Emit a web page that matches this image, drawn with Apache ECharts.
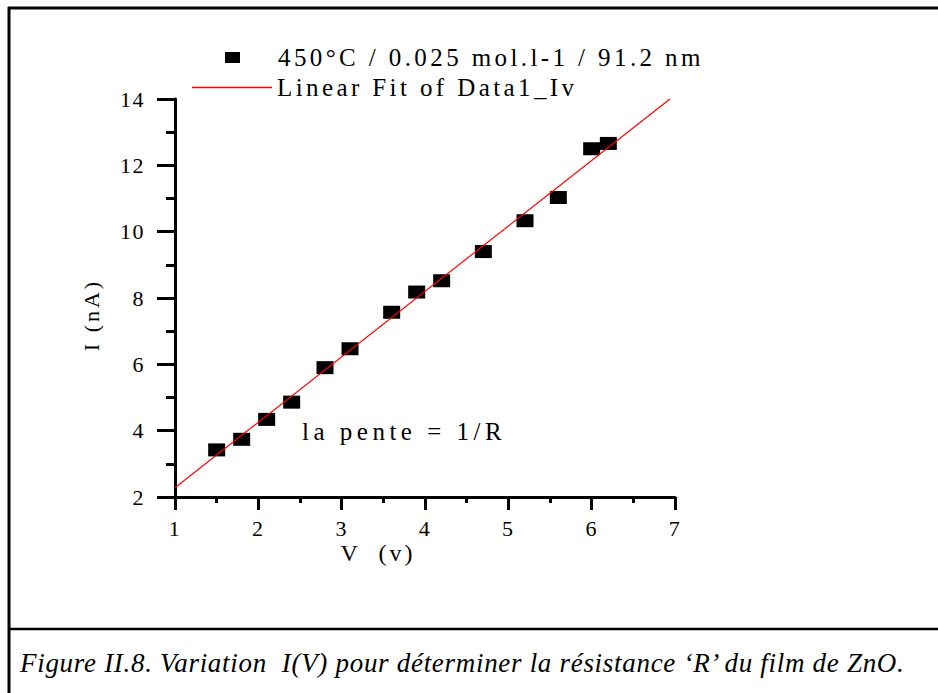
<!DOCTYPE html>
<html>
<head>
<meta charset="utf-8">
<script src="https://cdn.jsdelivr.net/npm/echarts@6/dist/echarts.min.js"></script>
<style>
  html, body { margin: 0; padding: 0; background: #fff; }
  #chart { width: 938px; height: 693px; }
</style>
</head>
<body>
<div id="chart"></div>
<script>
// ---- data ----
const voltage = [1.5, 1.8, 2.1, 2.4, 2.8, 3.1, 3.6, 3.9, 4.2, 4.7, 5.2, 5.6, 6.0, 6.2];
const current = [3.42, 3.74, 4.34, 4.86, 5.90, 6.47, 7.57, 8.18, 8.52, 9.40, 10.33, 11.03, 12.50, 12.66];
const fitX = [1, 6.94];
const fitY = [2.28, 14];
const seriesName = '450°C / 0.025 mol.l-1 / 91.2 nm';
const fitName = 'Linear Fit of Data1_Iv';
const xTitle = 'V  (v)';
const yTitle = 'I (nA)';
const note = 'la pente = 1/R';
const caption = 'Figure II.8. Variation  I(V) pour déterminer la résistance ‘R’ du film de ZnO.';

const FONT = "Liberation Serif";
const points = voltage.map((v, i) => [v, current[i]]);
const fitPoints = fitX.map((v, i) => [v, fitY[i]]);

const chart = echarts.init(document.getElementById('chart'), null, { renderer: 'svg' });

const axisCommon = {
  type: 'value',
  axisLine: { show: true, onZero: false, lineStyle: { color: '#000', width: 3 } },
  splitLine: { show: false },
  axisLabel: { color: '#000', fontSize: 22, fontFamily: FONT },
};

chart.setOption({
  animation: false,
  backgroundColor: '#fff',
  textStyle: { fontFamily: FONT, color: '#000' },
  grid: { left: 175, top: 99, width: 500, height: 398, containLabel: false },
  legend: [
    {
      data: [{ name: seriesName, icon: 'rect' }],
      left: 225, top: 45, padding: 0,
      itemWidth: 15, itemHeight: 11,
      selectedMode: false,
      textStyle: { fontSize: 25, fontFamily: FONT, color: '#000', padding: [0, 0, 0, 33] }
    },
    {
      data: [{ name: fitName, icon: 'rect' }],
      left: 192, top: 75, padding: 0,
      itemWidth: 80, itemHeight: 1.3,
      selectedMode: false,
      textStyle: { fontSize: 25, fontFamily: FONT, color: '#000' }
    }
  ],
  xAxis: Object.assign({}, axisCommon, {
    min: 1, max: 7, interval: 1,
    axisTick: { show: true, length: 13, lineStyle: { color: '#000', width: 3 } },
    minorTick: { show: true, splitNumber: 2, length: 6, lineStyle: { color: '#000', width: 3 } },
    axisLabel: Object.assign({}, axisCommon.axisLabel, { margin: 20 })
  }),
  yAxis: Object.assign({}, axisCommon, {
    min: 2, max: 14, interval: 2,
    axisTick: { show: true, length: 18, lineStyle: { color: '#000', width: 3 } },
    minorTick: { show: true, splitNumber: 2, length: 9, lineStyle: { color: '#000', width: 3 } },
    axisLabel: Object.assign({}, axisCommon.axisLabel, { margin: 30 })
  }),
  series: [
    {
      name: seriesName,
      type: 'scatter',
      data: points,
      symbol: 'rect',
      symbolSize: [17, 13],
      itemStyle: { color: '#000', opacity: 1 },
      z: 2
    },
    {
      name: fitName,
      type: 'line',
      data: fitPoints,
      symbol: 'none',
      showSymbol: false,
      lineStyle: { color: '#ff0000', width: 1.2 },
      itemStyle: { color: '#ff0000' },
      z: 3
    }
  ],
  graphic: [
    { type: 'line', shape: { x1: 9, y1: 7, x2: 9, y2: 693 }, style: { stroke: '#000', lineWidth: 3 } },
    { type: 'line', shape: { x1: 8, y1: 8, x2: 938, y2: 8 }, style: { stroke: '#000', lineWidth: 3 } },
    { type: 'line', shape: { x1: 8, y1: 629, x2: 938, y2: 629 }, style: { stroke: '#000', lineWidth: 2.5 } },
    { type: 'text', x: 91, y: 315, rotation: Math.PI / 2,
      style: { text: yTitle, fontSize: 22, fontFamily: FONT, fill: '#000', align: 'center', verticalAlign: 'middle' } },
    { type: 'text', x: 378, y: 553,
      style: { text: xTitle, fontSize: 24, fontFamily: FONT, fill: '#000', align: 'center', verticalAlign: 'middle' } },
    { type: 'text', x: 302, y: 431,
      style: { text: note, fontSize: 25, fontFamily: FONT, fill: '#000', align: 'left', verticalAlign: 'middle' } },
    { type: 'text', x: 20, y: 663,
      style: { text: caption, fontSize: 27, fontStyle: 'italic', fontFamily: FONT, fill: '#000', align: 'left', verticalAlign: 'middle' } }
  ]
});

function applySpacing() {
  document.querySelectorAll('#chart text').forEach(t => {
    const s = t.textContent || '';
    let ls = '1.5px';
    if (s.startsWith('450') || s.startsWith('Linear')) ls = '3.4px';
    else if (s.startsWith('la pente')) ls = '4.5px';
    else if (s.startsWith('V') || s.startsWith('I (')) ls = '3px';
    else if (s.startsWith('Figure')) ls = '0.7px';
    t.style.letterSpacing = ls;
  });
}
chart.on('finished', applySpacing);
setTimeout(applySpacing, 50);
setTimeout(applySpacing, 300);
</script>
</body>
</html>
